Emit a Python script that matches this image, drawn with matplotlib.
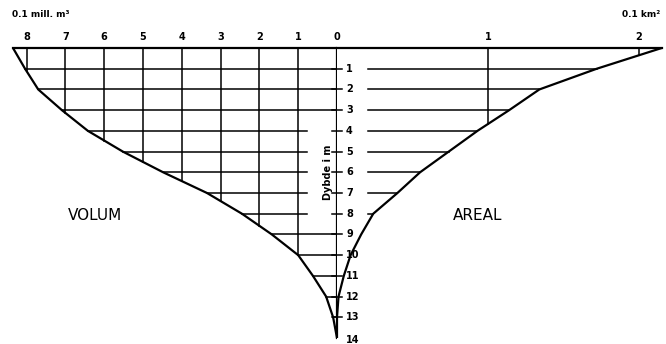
import numpy as np
import matplotlib.pyplot as plt

# dybde i m
depth = np.arange(0, 15)
# volum, 0.1 mill. m3
volum = [8.35, 8.04, 7.7, 7.09, 6.42, 5.52, 4.48, 3.35, 2.45, 1.68, 1.0, 0.62, 0.28, 0.1, 0.0]
# areal, 0.1 km2
areal = [2.15, 1.72, 1.34, 1.14, 0.93, 0.74, 0.55, 0.40, 0.24, 0.16, 0.09, 0.045, 0.01, 0.0, 0.0]

vol_ticks = [8, 7, 6, 5, 4, 3, 2, 1, 0]
areal_ticks = [1, 2]
depth_labels = [str(d) for d in range(1, 15)]

fig = plt.figure(figsize=(6.66, 3.44), dpi=100)
split = 337 / 666
axl = fig.add_axes([0, 0, split, 1])
axr = fig.add_axes([split, 0, 1 - split, 1])

ytop = -48 / 20.7
ybot = 14 + 6 / 20.7
axl.set_xlim(337 / 38.8, 0)
axr.set_xlim(0, 329 / 151)
for ax in (axl, axr):
    ax.set_ylim(ybot, ytop)
    ax.axis('off')

lw_curve = 1.6
lw_grid = 1.1
k = 'black'

# kurver
axl.plot(volum, depth, color=k, lw=lw_curve, solid_capstyle='butt')
axr.plot(areal, depth, color=k, lw=lw_curve, solid_capstyle='butt')

# topplinje og akse
axl.plot([volum[0], 0], [0, 0], color=k, lw=lw_curve)
axr.plot([0, areal[0]], [0, 0], color=k, lw=lw_curve)
axl.plot([0, 0], [0, 14], color=k, lw=lw_curve)

# vertikale rutelinjer, volum
for v in vol_ticks[:-1]:
    d = np.interp(v, volum[::-1], depth[::-1])
    axl.plot([v, v], [0, d], color=k, lw=lw_grid)
# vertikale rutelinjer, areal
for a in areal_ticks:
    d = np.interp(a, areal[::-1], depth[::-1])
    axr.plot([a, a], [0, d], color=k, lw=lw_grid)

# horisontale rutelinjer
for i in range(1, 14):
    end = 0.77 if 4 <= i <= 8 else 0
    axl.plot([volum[i], end], [i, i], color=k, lw=lw_grid)
    if areal[i] > 0.205:
        axr.plot([0.205, areal[i]], [i, i], color=k, lw=lw_grid)

# små merker på aksen
for i in range(1, 14):
    axl.plot([0, 0.13], [i, i], color=k, lw=lw_grid)
    axr.plot([0, 0.033], [i, i], color=k, lw=lw_grid)

# tall
fs = 7
for v in vol_ticks:
    axl.text(v, -0.53, str(v), ha='center', va='center', fontsize=fs, fontweight='bold')
for a in areal_ticks:
    axr.text(a, -0.53, str(a), ha='center', va='center', fontsize=fs, fontweight='bold')
for i, lab in enumerate(depth_labels, start=1):
    y = i + 0.12 if i == 14 else i
    axr.text(0.06, y, lab, ha='left', va='center', fontsize=fs, fontweight='bold')

axl.text(8.38, -1.6, '0.1 mill. m³', ha='left', va='center', fontsize=6.5, fontweight='bold')
axr.text(2.14, -1.6, '0.1 km²', ha='right', va='center', fontsize=6.5, fontweight='bold')
axl.text(0.23, 6.0, 'Dybde i m', rotation=90, ha='center', va='center', fontsize=7, fontweight='bold')
axl.text(6.25, 8.1, 'VOLUM', ha='center', va='center', fontsize=11)
axr.text(0.93, 8.1, 'AREAL', ha='center', va='center', fontsize=11)

fig.savefig('out.png', dpi=100)
